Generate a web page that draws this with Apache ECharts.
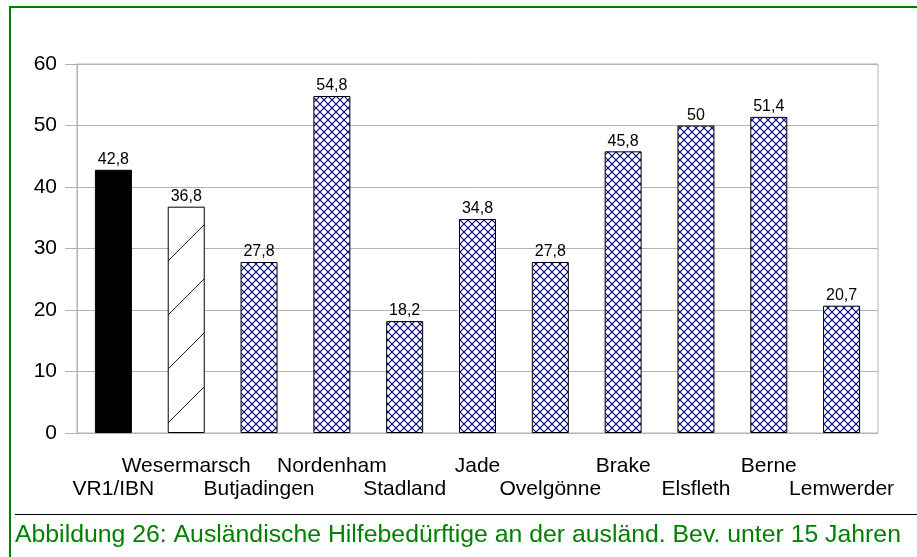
<!DOCTYPE html>
<html>
<head>
<meta charset="utf-8">
<script src="https://cdn.jsdelivr.net/npm/echarts@6/dist/echarts.min.js"></script>
<style>
  html, body { margin: 0; padding: 0; background: #fff; }
  #chart { width: 917px; height: 557px; }
</style>
</head>
<body>
<div id="chart"></div>
<script>
// categories and values (Prozent)
const categories = ['VR1/IBN', 'Wesermarsch', 'Butjadingen', 'Nordenham', 'Stadland', 'Jade',
  'Ovelgönne', 'Brake', 'Elsfleth', 'Berne', 'Lemwerder'];
const values = [42.8, 36.8, 27.8, 54.8, 18.2, 34.8, 27.8, 45.8, 50, 51.4, 20.7];
const yTicks = [0, 10, 20, 30, 40, 50, 60];
const caption = 'Abbildung 26: Ausländische Hilfebedürftige an der ausländ. Bev. unter 15 Jahren';

// hatch patterns
function crossHatch() {
  const c = document.createElement('canvas');
  c.width = 8; c.height = 8;
  const g = c.getContext('2d');
  g.fillStyle = '#fff';
  g.fillRect(0, 0, 8, 8);
  g.strokeStyle = '#000080';
  g.lineWidth = 1.1;
  g.beginPath();
  g.moveTo(0, 0); g.lineTo(8, 8);
  g.moveTo(8, 0); g.lineTo(0, 8);
  g.stroke();
  return c;
}
function diagHatch() {
  const c = document.createElement('canvas');
  c.width = 54; c.height = 54;
  const g = c.getContext('2d');
  g.fillStyle = '#fff';
  g.fillRect(0, 0, 54, 54);
  g.strokeStyle = '#222';
  g.lineWidth = 1;
  g.beginPath();
  [-3, 51, 105].forEach(s => { g.moveTo(-2, s + 2); g.lineTo(s + 2, -2); });
  g.stroke();
  return c;
}
const cross = { image: crossHatch(), repeat: 'repeat' };
const diag = { image: diagHatch(), repeat: 'repeat' };

function barStyle(i) {
  if (i === 0) return { color: '#000', borderColor: '#000', borderWidth: 1 };
  if (i === 1) return { color: diag, borderColor: '#000', borderWidth: 1 };
  return { color: cross, borderColor: '#000', borderWidth: 1 };
}

const chart = echarts.init(document.getElementById('chart'), null, { renderer: 'canvas' });
const grey = '#b3b3b3';
const font = 'Liberation Sans, Arial, sans-serif';

chart.setOption({
  animation: false,
  textStyle: { fontFamily: font },
  grid: { left: 77, right: 39, top: 64, bottom: 124, show: true, borderColor: grey, borderWidth: 1 },
  xAxis: {
    type: 'category',
    data: categories,
    axisLine: { lineStyle: { color: grey } },
    axisTick: { alignWithLabel: true, length: 10, lineStyle: { color: grey } },
    axisLabel: {
      interval: 0,
      color: '#000',
      fontSize: 21,
      lineHeight: 23,
      margin: 22,
      formatter: (v, i) => (i % 2 === 0 ? '\n' + v : v)
    }
  },
  yAxis: {
    type: 'value',
    min: yTicks[0],
    max: yTicks[yTicks.length - 1],
    interval: 10,
    axisLine: { show: true, lineStyle: { color: grey } },
    axisTick: { show: true, length: 12, lineStyle: { color: grey } },
    splitLine: { lineStyle: { color: grey } },
    axisLabel: { color: '#000', fontSize: 21, margin: 20 }
  },
  series: [{
    type: 'bar',
    barWidth: 37,
    data: values.map((v, i) => ({ value: v, itemStyle: barStyle(i) })),
    label: {
      show: true,
      position: 'top',
      distance: 2,
      color: '#000',
      fontSize: 16,
      formatter: p => String(p.value).replace('.', ',')
    }
  }],
  graphic: [
    { type: 'line', shape: { x1: 10, y1: 7, x2: 917, y2: 7 }, style: { stroke: '#008000', lineWidth: 2 } },
    { type: 'line', shape: { x1: 10, y1: 6, x2: 10, y2: 557 }, style: { stroke: '#008000', lineWidth: 2 } },
    { type: 'line', shape: { x1: 15, y1: 514.5, x2: 917, y2: 514.5 }, style: { stroke: '#000', lineWidth: 1 } },
    { type: 'text', left: 15, top: 523, style: { text: caption, fill: '#008000', font: '24.8px ' + font } }
  ]
});
</script>
</body>
</html>
